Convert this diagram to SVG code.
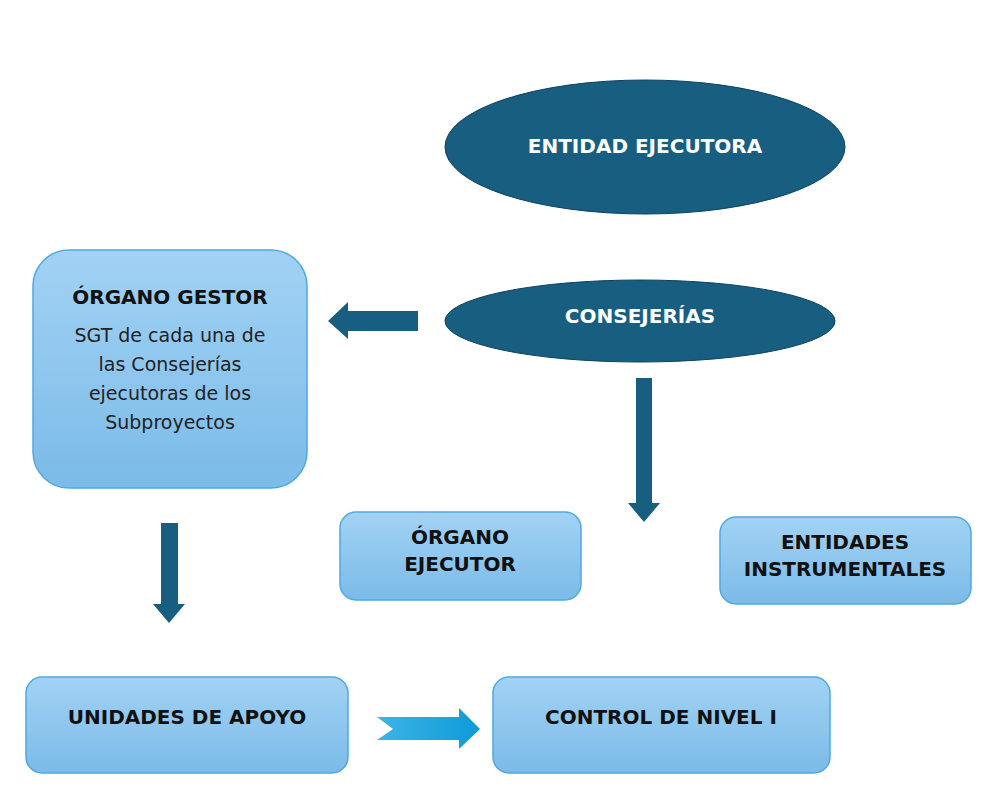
<svg xmlns="http://www.w3.org/2000/svg" width="983" height="810" viewBox="0 0 983 810">
<style>
.box{fill:url(#bg);stroke:#4ea9e2;stroke-width:1.5}
.ell{fill:#175e80;stroke:#0e4360;stroke-width:1}
.dark{fill:#175e80}
.lbl{font-family:"DejaVu Sans",Verdana,sans-serif;font-weight:bold;font-size:20px;fill:#111;text-anchor:middle}
.wlbl{font-family:"DejaVu Sans",Verdana,sans-serif;font-weight:bold;font-size:20px;fill:#fff;text-anchor:middle}
.reg{font-family:"DejaVu Sans",Verdana,sans-serif;font-size:19px;fill:#222;text-anchor:middle}
</style>
<defs>
<linearGradient id="bg" x1="0" y1="0" x2="0" y2="1">
<stop offset="0" stop-color="#a2d2f4"/>
<stop offset="1" stop-color="#7bbbe8"/>
</linearGradient>
<linearGradient id="ab" x1="0" y1="0" x2="1" y2="0">
<stop offset="0" stop-color="#3cb4e6"/>
<stop offset="1" stop-color="#0d9bd8"/>
</linearGradient>
</defs>
<rect width="983" height="810" fill="#fff"/>
<g id="entidad-ejecutora">
<ellipse class="ell" cx="645" cy="147" rx="200" ry="67"/>
<text class="wlbl" x="645" y="153">ENTIDAD EJECUTORA</text>
</g>
<g id="consejerias">
<ellipse class="ell" cx="640" cy="321" rx="195" ry="41"/>
<text class="wlbl" x="640" y="323">CONSEJERÍAS</text>
</g>
<g id="organo-gestor">
<rect class="box" x="33" y="250" width="274" height="238" rx="36"/>
<text class="lbl" x="170" y="304">ÓRGANO GESTOR</text>
<text class="reg" x="170" y="342">SGT de cada una de</text>
<text class="reg" x="170" y="371">las Consejerías</text>
<text class="reg" x="170" y="400">ejecutoras de los</text>
<text class="reg" x="170" y="429">Subproyectos</text>
</g>
<g id="organo-ejecutor">
<rect class="box" x="340" y="512" width="241" height="88" rx="16"/>
<text class="lbl" x="460" y="544">ÓRGANO</text>
<text class="lbl" x="460" y="571">EJECUTOR</text>
</g>
<g id="entidades-instrumentales">
<rect class="box" x="720" y="517" width="251" height="87" rx="16"/>
<text class="lbl" x="845" y="549">ENTIDADES</text>
<text class="lbl" x="845" y="576">INSTRUMENTALES</text>
</g>
<g id="unidades-apoyo">
<rect class="box" x="26" y="677" width="322" height="96" rx="16"/>
<text class="lbl" x="187" y="724">UNIDADES DE APOYO</text>
</g>
<g id="control-nivel">
<rect class="box" x="493" y="677" width="337" height="96" rx="16"/>
<text class="lbl" x="661" y="724">CONTROL DE NIVEL I</text>
</g>
<g id="connectors">
<polygon class="dark" points="418,311 418,331 348,331 348,339 328,321 348,302 348,311"/>
<polygon class="dark" points="636,378 652,378 652,503 660,503 644,522 628,503 636,503"/>
<polygon class="dark" points="161,523 178,523 178,604 185,604 169,623 153,604 161,604"/>
<polygon fill="url(#ab)" points="377,717 459,717 459,708 480,729 459,749 459,740 377,740 393,729"/>
</g>
</svg>
